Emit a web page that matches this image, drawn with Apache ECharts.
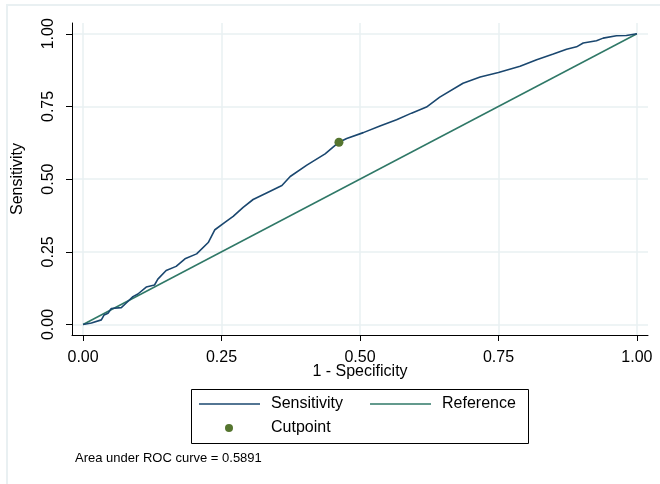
<!DOCTYPE html>
<html>
<head>
<meta charset="utf-8">
<script src="https://cdn.jsdelivr.net/npm/echarts@6/dist/echarts.min.js"></script>
<style>
  html, body { margin: 0; padding: 0; background: #fff; }
  #chart { width: 660px; height: 484px; }
</style>
</head>
<body>
<div id="chart"></div>
<script>
// ROC curve: 1 - specificity (false positive rate) against sensitivity
const fpr = [0, 0.015, 0.033, 0.038, 0.045, 0.051, 0.069, 0.078, 0.090, 0.099,
  0.114, 0.129, 0.135, 0.150, 0.168, 0.184, 0.205, 0.226, 0.238, 0.256,
  0.271, 0.289, 0.307, 0.335, 0.359, 0.374, 0.404, 0.437, 0.462, 0.476,
  0.506, 0.536, 0.566, 0.593, 0.620, 0.644, 0.686, 0.717, 0.750, 0.789,
  0.819, 0.849, 0.873, 0.891, 0.903, 0.927, 0.939, 0.963, 0.981, 1];
const sensitivity = [0, 0.005, 0.016, 0.033, 0.039, 0.055, 0.058, 0.074, 0.096, 0.105,
  0.129, 0.136, 0.156, 0.186, 0.200, 0.226, 0.243, 0.282, 0.326, 0.351,
  0.372, 0.403, 0.430, 0.456, 0.478, 0.509, 0.548, 0.587, 0.627, 0.640,
  0.660, 0.683, 0.704, 0.727, 0.748, 0.782, 0.830, 0.851, 0.867, 0.888,
  0.911, 0.930, 0.947, 0.955, 0.968, 0.976, 0.985, 0.993, 0.994, 1];
const referenceX = [0, 1];
const referenceY = [0, 1];
const cutpoint = [0.462, 0.627];
const tickValues = [0, 0.25, 0.5, 0.75, 1];
const aucText = 'Area under ROC curve = 0.5891';

const FONT = '"Liberation Sans", Arial, sans-serif';
const NAVY = '#1a476f';
const REF = '#2f7867';
const GREEN = '#55752f';
const GRIDC = '#e9f0f2';

const chart = echarts.init(document.getElementById('chart'), null, { renderer: 'canvas' });

const fmt = v => v.toFixed(2);

chart.setOption({
  animation: false,
  backgroundColor: '#fff',
  textStyle: { fontFamily: FONT },
  title: {
    text: aucText,
    left: 75, top: 452, padding: 0,
    textStyle: { fontSize: 13, fontWeight: 'normal', color: '#000', fontFamily: FONT }
  },
  graphic: [
    {
      type: 'rect', z: -10, silent: true,
      shape: { x: 7, y: 5, width: 700, height: 520 },
      style: { fill: 'none', stroke: GRIDC, lineWidth: 2 }
    },
    {
      type: 'rect', silent: true,
      shape: { x: 191.5, y: 389.5, width: 337, height: 54 },
      style: { fill: 'none', stroke: '#000', lineWidth: 1 }
    }
  ],
  legend: [
    {
      data: [{ name: 'Sensitivity', icon: 'rect' }, { name: 'Reference', icon: 'rect' }],
      left: 199, top: 396, padding: 0,
      itemWidth: 61, itemHeight: 1.5, itemGap: 27,
      selectedMode: false,
      textStyle: { fontSize: 16, color: '#000', fontFamily: FONT, padding: [0, 0, 0, 6] }
    },
    {
      data: [{ name: 'Cutpoint', icon: 'circle', itemStyle: { color: GREEN, opacity: 1 } }],
      left: 225, top: 420, padding: 0,
      itemWidth: 8, itemHeight: 8,
      selectedMode: false,
      textStyle: { fontSize: 16, color: '#000', fontFamily: FONT, padding: [0, 0, 0, 33] }
    }
  ],
  grid: { left: 72, right: 12, top: 23, bottom: 149, containLabel: false },
  xAxis: {
    type: 'value', min: -0.02, max: 1.02,
    name: '1 - Specificity', nameLocation: 'middle', nameGap: 29, nameMoveOverlap: false,
    nameTextStyle: { fontSize: 16, color: '#000', fontFamily: FONT },
    axisLine: { show: true, onZero: false, lineStyle: { color: '#000', width: 1 } },
    axisTick: { show: true, length: 6, customValues: tickValues, lineStyle: { color: '#000' } },
    axisLabel: { customValues: tickValues, formatter: fmt, fontSize: 16, color: '#000', margin: 15, fontFamily: FONT },
    splitLine: { show: true, lineStyle: { color: GRIDC, width: 1.5 } }
  },
  yAxis: {
    type: 'value', min: -0.036, max: 1.037,
    name: 'Sensitivity', nameLocation: 'middle', nameGap: 46,
    nameTextStyle: { fontSize: 16, color: '#000', fontFamily: FONT },
    axisLine: { show: true, onZero: false, lineStyle: { color: '#000', width: 1 } },
    axisTick: { show: true, length: 6, customValues: tickValues, lineStyle: { color: '#000' } },
    axisLabel: { customValues: tickValues, formatter: fmt, rotate: 90, fontSize: 16, color: '#000', margin: 15, fontFamily: FONT },
    splitLine: { show: true, lineStyle: { color: GRIDC, width: 1.5 } }
  },
  series: [
    {
      name: 'Reference', type: 'line', color: REF,
      data: referenceX.map((x, i) => [x, referenceY[i]]),
      symbol: 'none', lineStyle: { width: 1.5, color: REF }, z: 2
    },
    {
      name: 'Sensitivity', type: 'line', color: NAVY,
      data: fpr.map((x, i) => [x, sensitivity[i]]),
      symbol: 'none', lineStyle: { width: 1.6, color: NAVY }, z: 3
    },
    {
      name: 'Cutpoint', type: 'scatter', color: GREEN,
      data: [cutpoint], symbol: 'circle', symbolSize: 9,
      itemStyle: { color: GREEN, opacity: 1 }, z: 4
    }
  ]
});
</script>
</body>
</html>
